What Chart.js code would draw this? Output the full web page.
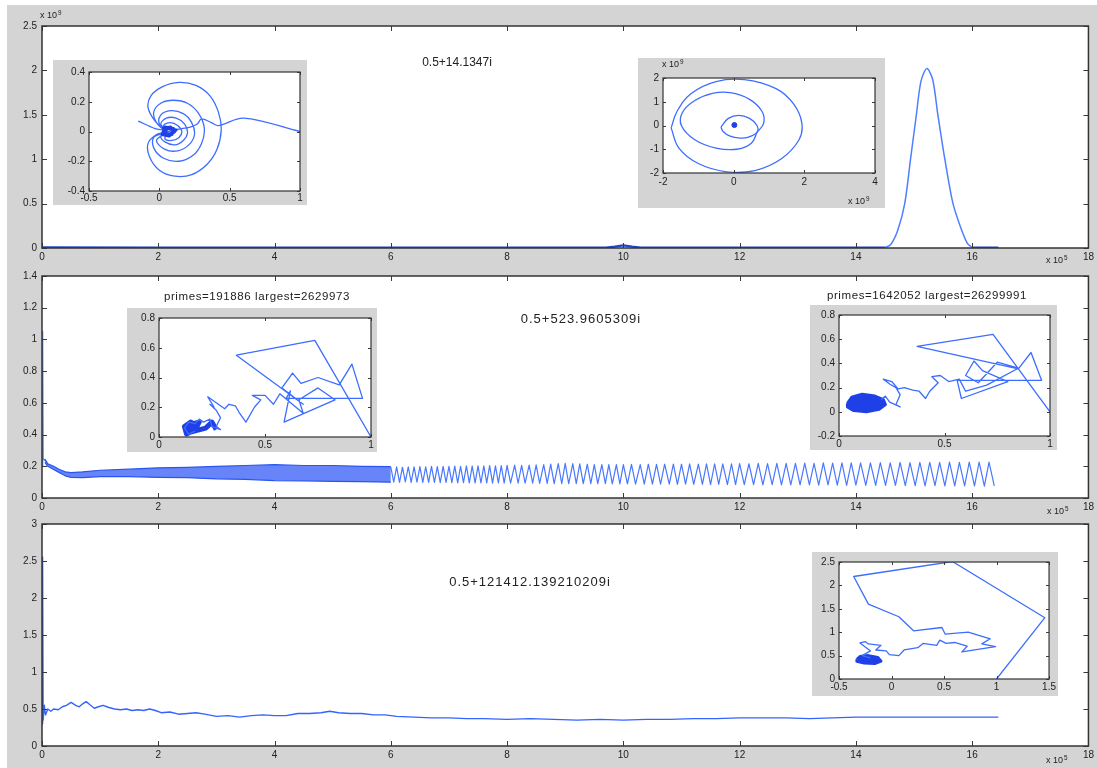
<!DOCTYPE html>
<html><head><meta charset="utf-8">
<script src="https://cdn.jsdelivr.net/npm/chart.js@4.4.1/dist/chart.umd.min.js"></script>
<style>
html,body{margin:0;padding:0;background:#fff}
body{width:1097px;height:768px;position:relative;overflow:hidden;font-family:"Liberation Sans",Arial,sans-serif;color:#222}
#fig{position:absolute;left:7px;top:5px;width:1090px;height:763px;background:#d4d4d4}
canvas{position:absolute}
.lbl{position:absolute;white-space:nowrap;line-height:1;color:#222}
.lbl .sup{font-size:0.7em;position:relative;top:-0.5em;margin-left:1px}
.wide{letter-spacing:0.6px}
.wider{letter-spacing:1px}
</style></head>
<body><div id="fig"></div>
<script>
// ---------- tick values ----------
const MAIN_X_TICKS = [0,2,4,6,8,10,12,14,16,18];
const P1_Y_TICKS = [0,0.5,1,1.5,2,2.5];
const P2_Y_TICKS = [0,0.2,0.4,0.6,0.8,1,1.2,1.4];
const P3_Y_TICKS = [0,0.5,1,1.5,2,2.5,3];
const I1_X_TICKS = [-0.5,0,0.5,1];
const I1_Y_TICKS = [-0.4,-0.2,0,0.2,0.4];
const I2_X_TICKS = [-2,0,2,4];
const I2_Y_TICKS = [-2,-1,0,1,2];
const I3_X_TICKS = [0,0.5,1];
const I3_Y_TICKS = [0,0.2,0.4,0.6,0.8];
const I4_X_TICKS = [0,0.5,1];
const I4_Y_TICKS = [-0.2,0,0.2,0.4,0.6,0.8];
const I5_X_TICKS = [-0.5,0,0.5,1,1.5];
const I5_Y_TICKS = [0,0.5,1,1.5,2,2.5];

// ---------- panel 1: s = 0.5+14.1347i (x in 1e5, y in 1e9) ----------
const p1Base = [[0,0.006],[2,0.004],[4,0.004],[6,0.004],[8,0.004],[9.7,0.004],[9.85,0.015],[10,0.03],[10.15,0.015],[10.3,0.004],[12,0.004],[14,0.004],[14.5,0.004]];
const p1Peak = [[14.5,0.004],[14.6,0.04],[14.72,0.2],[14.84,0.5],[14.94,1.0],[15.04,1.5],[15.12,1.88],[15.22,2.02],[15.32,1.9],[15.41,1.5],[15.53,1.0],[15.67,0.5],[15.82,0.2],[15.92,0.05],[16.0,0.005]];
const p1Tail = [[16.0,0.004],[16.45,0.004]];

// ---------- panel 2: s = 0.5+523.9605309i ----------
const p2Spike = [[0.00,0.20],[0.01,1.05],[0.02,0.25],[0.05,0.235]];
const p2BandTop = [[0.05,0.245],[0.1,0.215],[0.2,0.2],[0.3,0.18],[0.4,0.165],[0.5,0.16],[0.7,0.165],[1.0,0.175],[1.5,0.182],[2.0,0.19],[2.5,0.193],[3.0,0.2],[3.5,0.205],[4.0,0.21],[4.5,0.205],[5.0,0.205],[5.5,0.2],[6.0,0.198]];
const p2BandLow = [[0.05,0.225],[0.1,0.2],[0.2,0.18],[0.3,0.16],[0.4,0.14],[0.5,0.13],[0.7,0.128],[1.0,0.135],[1.5,0.135],[2.0,0.13],[2.5,0.128],[3.0,0.12],[3.5,0.118],[4.0,0.11],[4.5,0.108],[5.0,0.105],[5.5,0.103],[6.0,0.1]];
const p2Wave = [
 [6.00,.195],[6.05,.100],[6.10,.196],[6.15,.099],[6.20,.194],[6.25,.101],[6.30,.197],[6.35,.099],[6.40,.196],[6.45,.100],
 [6.50,.198],[6.55,.098],[6.60,.197],[6.65,.099],[6.70,.199],[6.75,.098],[6.80,.198],[6.85,.097],[6.90,.200],[6.95,.098],
 [7.00,.199],[7.05,.097],[7.10,.201],[7.15,.096],[7.20,.200],[7.25,.097],[7.30,.202],[7.35,.096],[7.40,.201],[7.45,.095],
 [7.50,.203],[7.55,.096],[7.60,.202],[7.65,.095],[7.70,.204],[7.75,.094],[7.80,.203],[7.85,.095],[7.90,.205],[7.95,.094],
 [8.00,.206],[8.06,.094],[8.13,.207],[8.19,.093],[8.25,.206],[8.31,.094],[8.38,.208],[8.44,.093],[8.50,.209],[8.56,.092],
 [8.63,.211],[8.69,.092],[8.75,.214],[8.81,.091],[8.88,.217],[8.94,.091],[9.00,.218],[9.06,.090],[9.13,.217],[9.19,.091],
 [9.25,.215],[9.31,.090],[9.38,.213],[9.44,.091],[9.50,.211],[9.56,.090],[9.63,.210],[9.69,.090],[9.75,.211],[9.81,.089],
 [9.88,.210],[9.94,.089],
 [10.00,.211],[10.07,.089],[10.14,.212],[10.21,.088],[10.29,.211],[10.36,.088],[10.43,.213],[10.50,.087],[10.57,.212],[10.64,.088],
 [10.71,.213],[10.79,.087],[10.86,.214],[10.93,.086],[11.00,.213],[11.07,.087],[11.14,.215],[11.21,.086],[11.29,.214],[11.36,.086],
 [11.43,.215],[11.50,.085],[11.57,.216],[11.64,.086],[11.71,.215],[11.79,.085],[11.86,.216],[11.93,.085],
 [12.00,.217],[12.08,.084],[12.16,.216],[12.24,.084],[12.32,.218],[12.40,.083],[12.48,.217],[12.56,.084],[12.64,.219],[12.72,.083],
 [12.80,.218],[12.88,.082],[12.96,.219],[13.04,.083],[13.12,.220],[13.20,.082],[13.28,.219],[13.36,.081],[13.44,.221],[13.52,.082],
 [13.60,.220],[13.68,.081],[13.76,.221],[13.84,.080],[13.92,.222],[14.00,.081],
 [14.08,.221],[14.17,.080],[14.25,.222],[14.34,.079],[14.42,.223],[14.51,.080],[14.59,.222],[14.68,.079],[14.76,.224],[14.85,.078],
 [14.93,.223],[15.02,.078],[15.10,.224],[15.19,.077],[15.27,.225],[15.36,.078],[15.44,.224],[15.53,.077],[15.61,.226],[15.70,.076],
 [15.78,.225],[15.87,.077],[15.95,.226],[16.04,.076],[16.12,.227],[16.21,.075],[16.29,.226],[16.38,.076]
];

// ---------- panel 3: s = 0.5+121412.139210209i ----------
const p3Line = [[0,0.3],[0.01,2.55],[0.02,0.35],[0.04,0.55],[0.06,0.42],[0.1,0.5],[0.15,0.47],[0.2,0.5],[0.28,0.49],[0.35,0.53],[0.42,0.55],[0.5,0.59],[0.58,0.55],[0.64,0.53],[0.7,0.57],[0.76,0.6],[0.82,0.56],[0.9,0.51],[0.97,0.53],[1.05,0.55],[1.15,0.52],[1.25,0.5],[1.35,0.49],[1.45,0.5],[1.55,0.48],[1.65,0.49],[1.75,0.48],[1.85,0.5],[1.95,0.48],[2.05,0.45],[2.2,0.46],[2.35,0.43],[2.5,0.44],[2.65,0.45],[2.8,0.43],[3.0,0.4],[3.2,0.41],[3.4,0.39],[3.6,0.41],[3.8,0.42],[4.0,0.41],[4.2,0.41],[4.4,0.44],[4.6,0.44],[4.8,0.45],[4.95,0.47],[5.1,0.45],[5.3,0.44],[5.5,0.44],[5.7,0.42],[5.9,0.42],[6.1,0.4],[6.4,0.39],[6.7,0.38],[7.0,0.38],[7.3,0.37],[7.6,0.37],[8.0,0.36],[8.4,0.37],[8.8,0.36],[9.2,0.35],[9.6,0.36],[10.0,0.35],[10.4,0.36],[10.8,0.36],[11.2,0.37],[11.6,0.37],[12.0,0.38],[12.4,0.38],[12.8,0.38],[13.2,0.37],[13.6,0.38],[14.0,0.39],[14.4,0.39],[14.8,0.39],[15.2,0.39],[15.6,0.39],[16.0,0.39],[16.45,0.39]];

// ---------- inset 1: partial sums, s = 0.5+14.1347i ----------
const i1Path = [
 [1.00,0.00],[0.60,0.09],[0.42,0.04],[0.37,0.06],[0.30,0.085],[0.27,0.05],[0.22,0.03],[0.16,0.02],[0.10,0.01],[0.05,0.00],
 [-0.03,0.07],[-0.08,0.16],[-0.06,0.24],[0.02,0.30],[0.14,0.33],[0.26,0.31],[0.36,0.24],[0.42,0.13],[0.44,0.01],[0.41,-0.12],[0.34,-0.22],[0.23,-0.29],[0.11,-0.30],[0.00,-0.26],[-0.07,-0.17],[-0.08,-0.08],[-0.02,-0.02],[0.05,0.00],
 [-0.02,0.06],[-0.04,0.13],[0.01,0.19],[0.10,0.21],[0.20,0.19],[0.28,0.12],[0.32,0.02],[0.30,-0.08],[0.24,-0.16],[0.14,-0.20],[0.03,-0.18],[-0.04,-0.11],[-0.04,-0.04],[0.05,0.00],
 [0.00,0.05],[0.01,0.11],[0.08,0.14],[0.17,0.12],[0.23,0.06],[0.25,-0.02],[0.21,-0.09],[0.13,-0.13],[0.04,-0.12],[-0.02,-0.06],[0.05,0.00],
 [0.01,0.05],[0.05,0.09],[0.12,0.09],[0.18,0.05],[0.20,-0.01],[0.17,-0.06],[0.11,-0.09],[0.04,-0.07],[0.01,-0.03],[0.05,0.00],
 [0.03,0.04],[0.08,0.06],[0.13,0.04],[0.16,0.00],[0.14,-0.04],[0.09,-0.06],[0.04,-0.05],[0.05,0.00],
 [-0.03,0.02],[-0.15,0.07]
];
const i1Core = [[0.02,0.02],[0.08,0.03],[0.11,0.0],[0.07,-0.03],[0.02,-0.02],[0.04,0.03],[0.1,0.02],[0.09,-0.02],[0.03,-0.01],[0.06,0.02],[0.12,0.01],[0.05,-0.03]];

// ---------- inset 2 (values in 1e9) ----------
const i2Small = [[-0.36,-0.06],[-0.15,0.30],[0.14,0.43],[0.45,0.30],[0.66,0.00],[0.66,-0.29],[0.40,-0.50],[0.19,-0.53],[-0.10,-0.45],[-0.30,-0.25],[-0.36,-0.06]];
const i2Mid = [[0.66,-0.29],[0.85,0.10],[0.80,0.60],[0.45,1.10],[-0.10,1.38],[-0.60,1.35],[-1.10,1.05],[-1.45,0.55],[-1.48,0.00],[-1.10,-0.60],[-0.50,-0.95],[0.10,-1.00],[0.50,-0.75],[0.66,-0.29]];
const i2Outer = [[-1.77,-0.10],[-1.55,-0.95],[-1.00,-1.60],[-0.20,-1.95],[0.60,-1.90],[1.35,-1.40],[1.85,-0.60],[1.93,0.10],[1.70,0.90],[1.20,1.55],[0.30,1.93],[-0.50,1.85],[-1.20,1.35],[-1.60,0.60],[-1.77,-0.10]];
const i2Dot = [[0.02,0.02]];

// ---------- inset 3: primes=191886 ----------
const i3Path = [[1.00,0.00],[0.735,0.65],[0.365,0.55],[0.68,0.22],[0.58,0.33],[0.63,0.43],[0.67,0.36],[0.75,0.40],[0.85,0.35],[0.91,0.49],[0.96,0.26],[0.60,0.26],[0.62,0.31],[0.59,0.10],[0.83,0.25],[0.75,0.33],[0.66,0.25],[0.68,0.16],[0.57,0.29],[0.54,0.22],[0.50,0.28],[0.44,0.28],[0.48,0.25],[0.45,0.20],[0.41,0.10],[0.38,0.16],[0.36,0.21],[0.33,0.22],[0.31,0.19],[0.29,0.21],[0.27,0.23],[0.25,0.25],[0.23,0.27],[0.26,0.20],[0.24,0.22],[0.27,0.18],[0.29,0.13],[0.27,0.07],[0.29,0.05],[0.25,0.07],[0.24,0.12],[0.21,0.10],[0.19,0.12],[0.17,0.09],[0.14,0.10],[0.12,0.06],[0.14,0.02],[0.17,0.04]];
const i3Blob = [[0.12,0.04],[0.16,0.09],[0.19,0.10],[0.17,0.05],[0.13,0.02],[0.12,0.07],[0.15,0.10],[0.18,0.07],[0.14,0.03],[0.22,0.06],[0.25,0.10],[0.27,0.05]];

// ---------- inset 4: primes=1642052 ----------
const i4Path = [[1.00,0.00],[0.73,0.64],[0.37,0.54],[0.85,0.355],[0.91,0.49],[0.96,0.26],[0.56,0.26],[0.58,0.11],[0.80,0.25],[0.68,0.34],[0.64,0.42],[0.60,0.30],[0.66,0.24],[0.75,0.41],[0.85,0.36],[0.70,0.22],[0.60,0.17],[0.57,0.27],[0.52,0.25],[0.48,0.30],[0.44,0.29],[0.47,0.24],[0.43,0.17],[0.41,0.11],[0.38,0.17],[0.35,0.18],[0.31,0.20],[0.28,0.19],[0.25,0.25],[0.21,0.27],[0.24,0.23],[0.27,0.20],[0.29,0.14],[0.27,0.06],[0.29,0.04],[0.24,0.08],[0.22,0.13],[0.20,0.10]];
const i4Blob = [[0.04,0.07],[0.06,0.12],[0.11,0.145],[0.17,0.13],[0.21,0.10],[0.22,0.06],[0.19,0.02],[0.13,0.0],[0.07,0.01],[0.04,0.04],[0.04,0.07]];

// ---------- inset 5: s = 0.5+121412.139210209i ----------
const i5Path = [[1.0,0.0],[1.46,1.31],[0.58,2.51],[-0.36,2.19],[-0.22,1.6],[0.07,1.33],[0.21,1.03],[0.48,1.1],[0.51,0.96],[0.73,1.0],[0.94,0.86],[0.86,0.75],[0.99,0.69],[0.67,0.58],[0.72,0.7],[0.6,0.78],[0.52,0.76],[0.46,0.83],[0.43,0.72],[0.3,0.76],[0.25,0.67],[0.12,0.62],[0.07,0.5],[-0.02,0.52],[-0.05,0.6],[-0.15,0.62],[-0.1,0.72],[-0.22,0.75],[-0.25,0.8],[-0.3,0.77],[-0.2,0.6],[-0.28,0.5],[-0.2,0.45]];
const i5Blob = [[-0.33,0.42],[-0.3,0.48],[-0.22,0.5],[-0.13,0.46],[-0.1,0.38],[-0.16,0.33],[-0.26,0.34],[-0.33,0.38],[-0.33,0.42]];

// ---------- drawing helpers ----------
const FONT = '"Liberation Sans", Arial, sans-serif';
const LINE = '#3d6dff';
const DARK = '#1f40e6';

function pts(a){ return a.map(p => ({x:p[0], y:p[1]})); }
function line(a, color, width, extra){
  return Object.assign({data:pts(a), showLine:true, borderColor:color, backgroundColor:color,
    borderWidth:width, pointRadius:0, tension:0, fill:false, borderJoinStyle:'round'}, extra||{});
}

// white plot area, box frame and inward tick marks on all four sides
const matFrame = {
  id:'matFrame',
  beforeDraw(c){
    const a=c.chartArea, g=c.ctx; g.save(); g.fillStyle='#fff';
    g.fillRect(a.left,a.top,a.right-a.left,a.bottom-a.top); g.restore();
  },
  afterDraw(c, args, o){
    const a=c.chartArea, g=c.ctx, L=o.tick, sx=c.scales.x, sy=c.scales.y;
    g.save(); g.strokeStyle='#3a3a3a'; g.lineWidth=1; g.beginPath();
    sx.ticks.forEach(t=>{ const p=Math.round(sx.getPixelForValue(t.value))+0.5;
      g.moveTo(p,a.bottom); g.lineTo(p,a.bottom-L); g.moveTo(p,a.top); g.lineTo(p,a.top+L); });
    sy.ticks.forEach(t=>{ const p=Math.round(sy.getPixelForValue(t.value))+0.5;
      g.moveTo(a.left,p); g.lineTo(a.left+L,p); g.moveTo(a.right,p); g.lineTo(a.right-L,p); });
    g.stroke();
    g.lineWidth=o.frame; g.strokeStyle='#333';
    g.strokeRect(a.left, a.top, a.right-a.left, a.bottom-a.top);
    g.restore();
  }
};

function makeChart(o){
  const cv=document.createElement('canvas');
  const w=o.box[2]-o.box[0], h=o.box[3]-o.box[1];
  cv.width=w; cv.height=h;
  Object.assign(cv.style,{left:o.box[0]+'px', top:o.box[1]+'px', width:w+'px', height:h+'px'});
  if(o.bg) cv.style.background=o.bg;
  document.body.appendChild(cv);
  const yW=o.area[0]-o.box[0], xH=o.box[3]-o.area[3];
  const tickFont={family:FONT, size:o.fs};
  return new Chart(cv,{
    type:'scatter',
    data:{datasets:o.datasets},
    options:{
      responsive:false, animation:false, devicePixelRatio:1,
      layout:{padding:{left:0, top:o.area[1]-o.box[1], right:o.box[2]-o.area[2], bottom:0}},
      plugins:{legend:{display:false}, tooltip:{enabled:false}, matFrame:{tick:o.tick, frame:o.frame}},
      scales:{
        x:{type:'linear', position:'bottom', min:o.xr[0], max:o.xr[1],
           afterBuildTicks:s=>{ s.ticks=o.xt.map(v=>({value:v})); },
           afterFit:s=>{ s.height=xH; },
           grid:{display:false, drawTicks:false}, border:{display:false},
           ticks:{padding:o.px, font:tickFont, color:'#222', maxRotation:0, autoSkip:false, callback:v=>String(v)}},
        y:{type:'linear', position:'left', min:o.yr[0], max:o.yr[1],
           afterBuildTicks:s=>{ s.ticks=o.yt.map(v=>({value:v})); },
           afterFit:s=>{ s.width=yW; },
           grid:{display:false, drawTicks:false}, border:{display:false},
           ticks:{padding:o.py, font:tickFont, color:'#222', autoSkip:false, callback:v=>String(v)}}
      }
    },
    plugins:[matFrame]
  });
}

function label(html, x, y, size, anchor, cls){
  const d=document.createElement('div'); d.className='lbl'+(cls?' '+cls:''); d.innerHTML=html;
  d.style.left=x+'px'; d.style.top=y+'px'; d.style.fontSize=size+'px';
  if(anchor==='c') d.style.transform='translate(-50%,-50%)';
  document.body.appendChild(d);
}

// ---------- main panels ----------
makeChart({box:[7,5,1097,268], area:[42,26,1089,248], xr:[0,18], yr:[0,2.5], xt:MAIN_X_TICKS, yt:P1_Y_TICKS,
  fs:10, px:3, py:5, tick:5, frame:1.5,
  datasets:[ line(p1Base, '#2446c8', 2.4), line(p1Peak, '#4f7fff', 1.5, {tension:0.3}), line(p1Tail, '#2446c8', 2.4) ]});

makeChart({box:[7,256,1097,518], area:[42,276,1089,498], xr:[0,18], yr:[0,1.4], xt:MAIN_X_TICKS, yt:P2_Y_TICKS,
  fs:10, px:3, py:5, tick:5, frame:1.5,
  datasets:[
    line(p2BandTop, '#2a55f0', 1.2, {fill:'+1', backgroundColor:'rgba(45,85,245,0.72)'}),
    line(p2BandLow, '#2a55f0', 1.2),
    line(p2Spike, '#5a86ff', 1.4),
    line(p2Wave, '#4a78ff', 1.2)
  ]});

makeChart({box:[7,504,1097,766], area:[42,524,1089,746], xr:[0,18], yr:[0,3], xt:MAIN_X_TICKS, yt:P3_Y_TICKS,
  fs:10, px:3, py:5, tick:5, frame:1.5,
  datasets:[ line(p3Line, '#3463ff', 1.4) ]});

// ---------- insets ----------
const GRAY='#d4d4d4';
makeChart({box:[53,60,307,205], area:[89,72,300,191], xr:[-0.5,1], yr:[-0.4,0.4], xt:I1_X_TICKS, yt:I1_Y_TICKS,
  fs:10, px:1, py:4, tick:3, frame:1.2, bg:GRAY,
  datasets:[ line(i1Core, DARK, 3), line(i1Path, LINE, 1.3, {tension:0.35}) ]});

makeChart({box:[638,58,885,208], area:[663,78,875,173], xr:[-2,4], yr:[-2,2], xt:I2_X_TICKS, yt:I2_Y_TICKS,
  fs:10, px:3, py:4, tick:3, frame:1.2, bg:GRAY,
  datasets:[ line(i2Outer, LINE, 1.3, {tension:0.4}), line(i2Mid, LINE, 1.3, {tension:0.4}),
             line(i2Small, LINE, 1.3, {tension:0.4}), line(i2Dot, DARK, 1, {pointRadius:2.5, showLine:false}) ]});

makeChart({box:[127,308,377,452], area:[159,317,371,437], xr:[0,1], yr:[0,0.8], xt:I3_X_TICKS, yt:I3_Y_TICKS,
  fs:10, px:2, py:4, tick:3, frame:1.2, bg:GRAY,
  datasets:[ line(i3Path, LINE, 1.3), line(i3Blob, DARK, 5) ]});

makeChart({box:[810,305,1057,450], area:[839,314,1050,436], xr:[0,1], yr:[-0.2,0.8], xt:I4_X_TICKS, yt:I4_Y_TICKS,
  fs:10, px:2, py:4, tick:3, frame:1.2, bg:GRAY,
  datasets:[ line(i4Path, LINE, 1.3), line(i4Blob, DARK, 3, {fill:'shape', backgroundColor:DARK}) ]});

makeChart({box:[812,552,1058,696], area:[839,560,1051,679], xr:[-0.5,1.5], yr:[0,2.5], xt:I5_X_TICKS, yt:I5_Y_TICKS,
  fs:10, px:2, py:4, tick:3, frame:1.2, bg:GRAY,
  datasets:[ line(i5Path, LINE, 1.3), line(i5Blob, DARK, 3, {fill:'shape', backgroundColor:DARK}) ]});

// ---------- titles and exponent labels ----------
label('0.5+14.1347i', 457, 62, 12, 'c');
label('0.5+523.9605309i', 581, 318, 13, 'c', 'wider');
label('0.5+121412.139210209i', 530, 581, 13, 'c', 'wider');
label('primes=191886 largest=2629973', 257, 297, 11.5, 'c', 'wide');
label('primes=1642052 largest=26299991', 927, 296, 11.5, 'c', 'wide');
label('x 10<span class="sup">9</span>', 40, 11, 9);
label('x 10<span class="sup">9</span>', 662, 60, 9);
label('x 10<span class="sup">9</span>', 848, 197, 9);
label('x 10<span class="sup">5</span>', 1046, 256, 9);
label('x 10<span class="sup">5</span>', 1047, 507, 9);
label('x 10<span class="sup">5</span>', 1046, 756, 9);
</script>
</body></html>
